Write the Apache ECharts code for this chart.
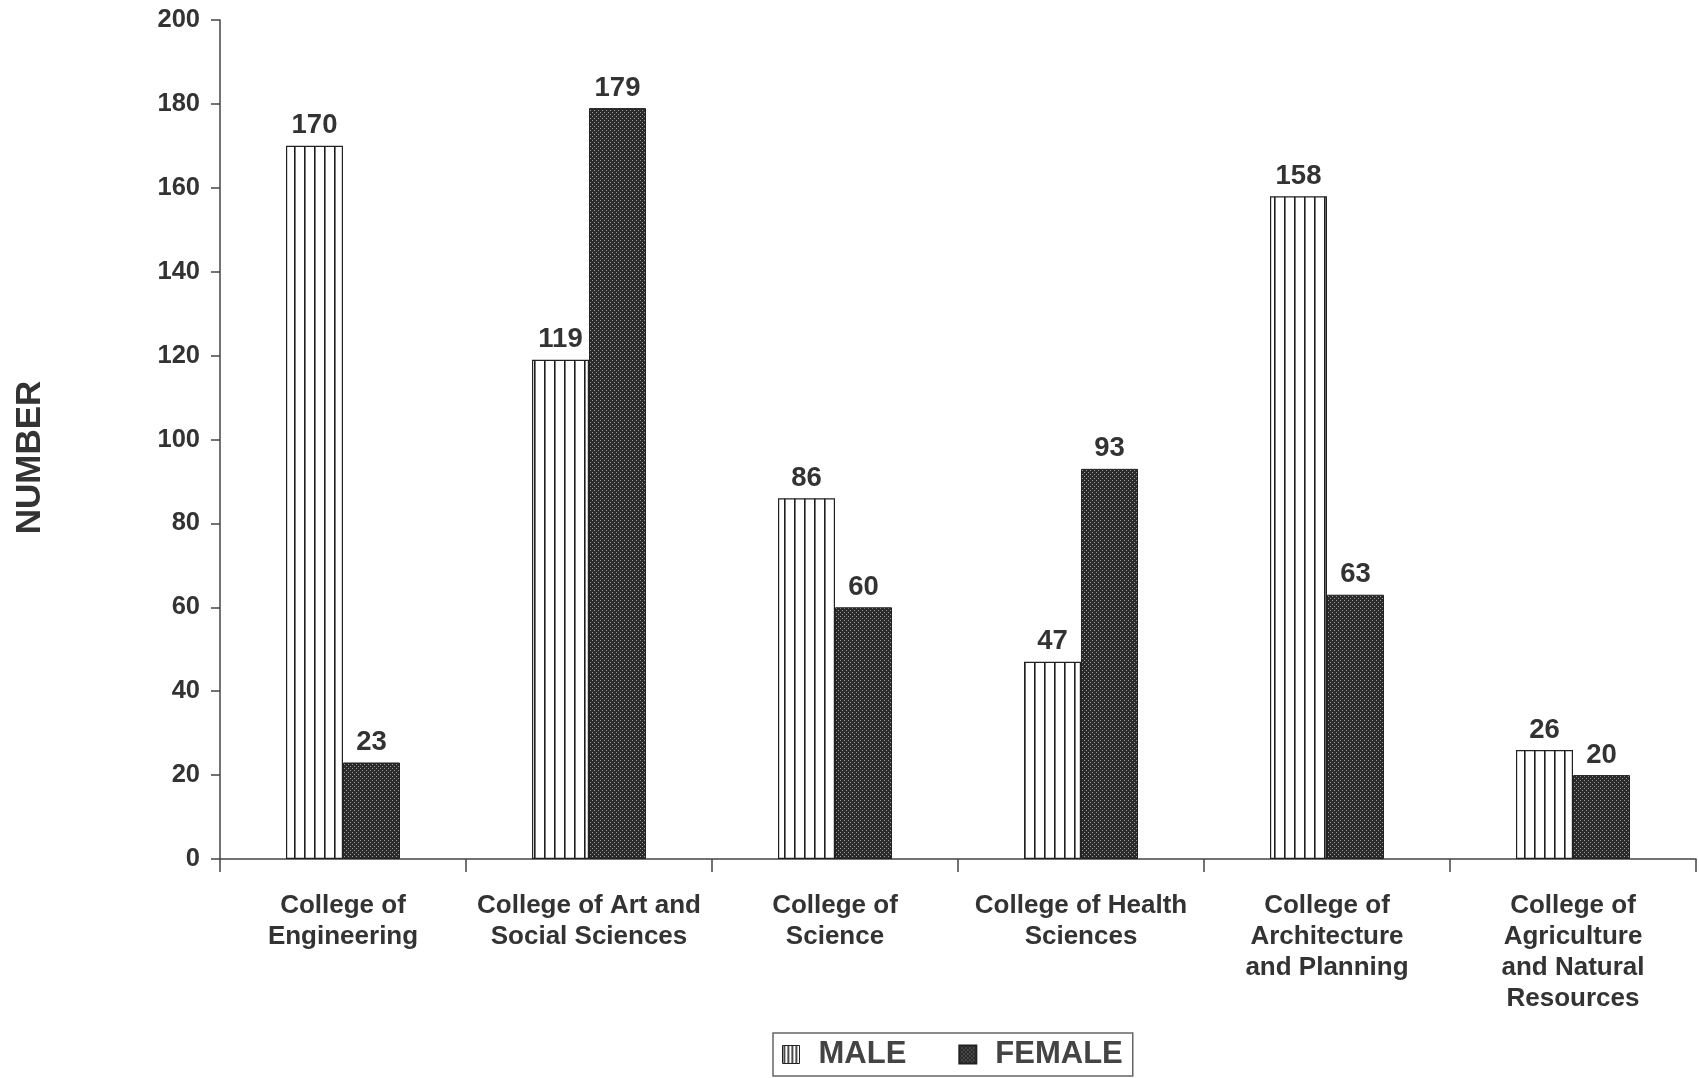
<!DOCTYPE html>
<html>
<head>
<meta charset="utf-8">
<script src="https://cdn.jsdelivr.net/npm/echarts@6/dist/echarts.min.js"></script>
<style>
  html, body { margin: 0; padding: 0; background: #fff; }
  #chart { width: 1699px; height: 1078px; }
</style>
</head>
<body>
<div id="chart"></div>
<script>
// data
const colleges = [
  'College of\nEngineering',
  'College of Art and\nSocial Sciences',
  'College of\nScience',
  'College of Health\nSciences',
  'College of\nArchitecture\nand Planning',
  'College of\nAgriculture\nand Natural\nResources'
];
const maleValues = [170, 119, 86, 47, 158, 26];
const femaleValues = [23, 179, 60, 93, 63, 20];
const seriesNames = ['MALE', 'FEMALE'];

// bar fills: vertical stripes for male, dark dotted screen for female
function stripePattern(step) {
  const c = document.createElement('canvas');
  c.width = step; c.height = 10;
  const ctx = c.getContext('2d');
  ctx.fillStyle = '#ffffff';
  ctx.fillRect(0, 0, step, 10);
  ctx.fillStyle = '#1e1e1e';
  ctx.fillRect(Math.floor(step / 2) - 1, 0, 1.6, 10);
  return c;
}
function dotPattern() {
  const c = document.createElement('canvas');
  c.width = 4; c.height = 4;
  const ctx = c.getContext('2d');
  ctx.fillStyle = '#2b2b2b';
  ctx.fillRect(0, 0, 4, 4);
  ctx.fillStyle = '#9a9a9a';
  ctx.fillRect(0, 0, 1, 1);
  ctx.fillRect(2, 2, 1, 1);
  return c;
}

const font = 'Liberation Sans, Arial, sans-serif';
const txt = '#333';

const myChart = echarts.init(document.getElementById('chart'), null, { renderer: 'canvas' });

const option = {
  backgroundColor: '#fff',
  animation: false,
  grid: { left: 220, right: 3, top: 20, bottom: 219, containLabel: false },
  legend: {
    data: [
      { name: seriesNames[0], icon: 'rect', itemStyle: { color: { image: stripePattern(4), repeat: 'repeat' }, borderColor: '#222', borderWidth: 1 } },
      { name: seriesNames[1], icon: 'rect' }
    ],
    left: 773,
    top: 1033,
    padding: [6, 10, 6, 9],
    itemGap: 52,
    itemWidth: 17,
    itemHeight: 18,
    borderColor: '#666',
    borderWidth: 1.5,
    borderRadius: 0,
    textStyle: { fontFamily: font, fontSize: 31, fontWeight: 'bold', color: '#444', padding: [0, 0, 0, 14] }
  },
  xAxis: {
    type: 'category',
    data: colleges,
    boundaryGap: true,
    axisLine: { lineStyle: { color: '#444', width: 1.5 } },
    axisTick: { show: true, inside: false, length: 13, alignWithLabel: false, lineStyle: { color: '#444', width: 1.5 } },
    axisLabel: {
      interval: 0,
      margin: 31,
      fontFamily: font, fontSize: 26, fontWeight: 'bold', color: txt,
      lineHeight: 31
    }
  },
  yAxis: {
    type: 'value',
    min: 0,
    max: 200,
    interval: 20,
    name: 'NUMBER',
    nameLocation: 'middle',
    nameGap: 172,
    nameRotate: 90,
    nameTextStyle: { fontFamily: font, fontSize: 35, fontWeight: 'bold', color: txt, padding: [0, 0, 0, -36] },
    axisLine: { show: true, lineStyle: { color: '#444', width: 1.5 } },
    axisTick: { show: true, inside: false, length: 9, lineStyle: { color: '#444', width: 1.5 } },
    splitLine: { show: false },
    axisLabel: { margin: 20, fontFamily: font, fontSize: 25.5, fontWeight: 'bold', color: txt }
  },
  series: [
    {
      name: seriesNames[0],
      type: 'bar',
      data: maleValues,
      barWidth: 57,
      barGap: '0%',
      itemStyle: { color: { image: stripePattern(10), repeat: 'repeat' }, borderColor: '#222', borderWidth: 1.2 },
      label: { show: true, position: 'top', distance: 6, fontFamily: font, fontSize: 27.5, fontWeight: 'bold', color: txt }
    },
    {
      name: seriesNames[1],
      type: 'bar',
      data: femaleValues,
      barWidth: 57,
      barGap: '0%',
      itemStyle: { color: { image: dotPattern(), repeat: 'repeat' }, borderColor: '#222', borderWidth: 1 },
      label: { show: true, position: 'top', distance: 6, fontFamily: font, fontSize: 27.5, fontWeight: 'bold', color: txt }
    }
  ]
};

myChart.setOption(option);
</script>
</body>
</html>
